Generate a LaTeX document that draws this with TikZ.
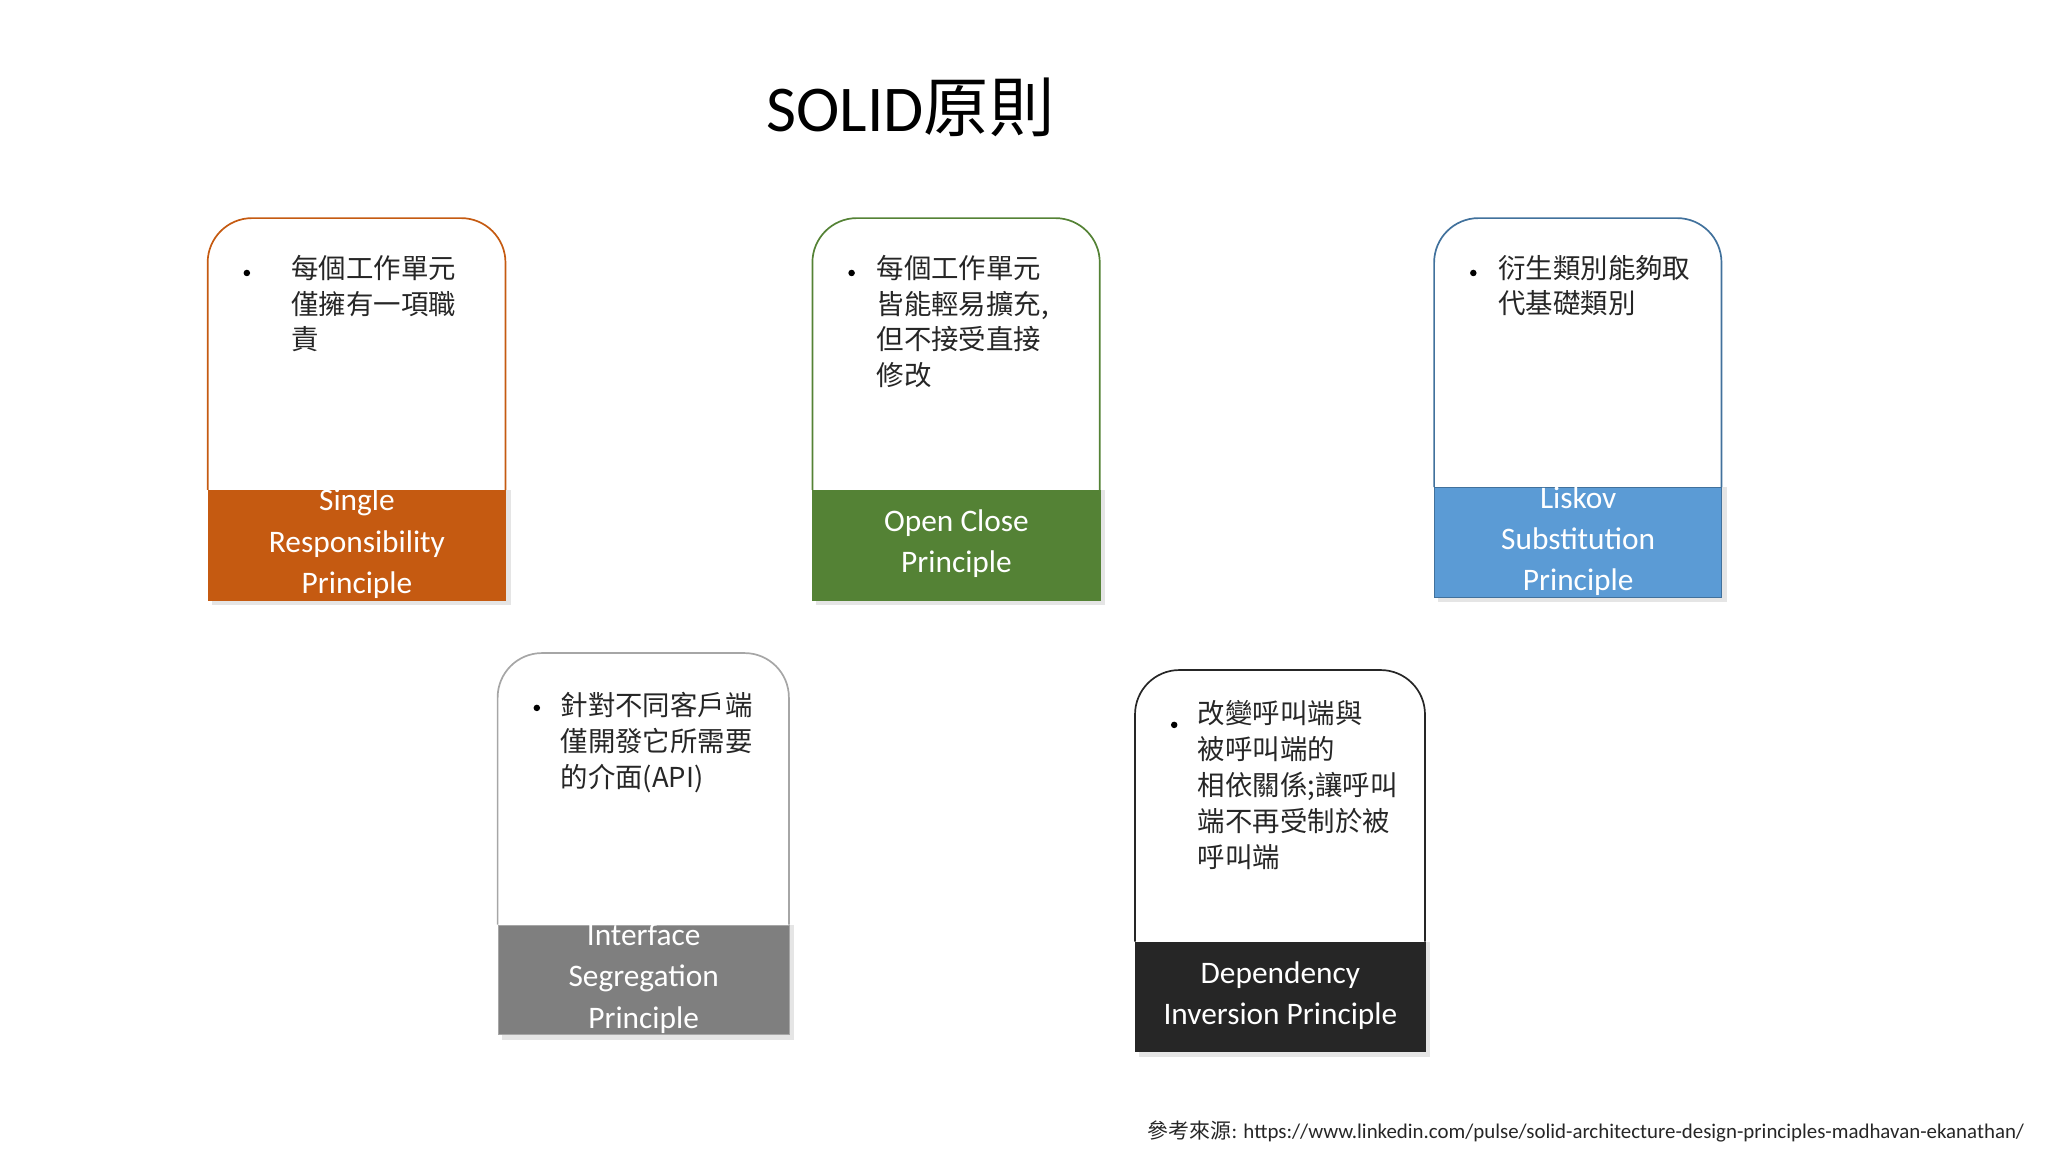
\documentclass[tikz,border=0pt]{standalone}
\usepackage{fontspec}
\setmainfont{Carlito}
\newfontfamily\cjk{Noto Sans CJK TC}
\begin{document}
\begin{tikzpicture}[x=1pt,y=-1pt,
  cjktext/.style={anchor=north west,align=left,font=\cjk\fontsize{21}{27.5}\selectfont,text=black!85,inner sep=0pt},
  bandtext/.style={align=center,text=white,font=\fontsize{24}{31.5}\selectfont,inner sep=0pt},
  bul/.style={circle,fill=black,inner sep=0pt,minimum size=5pt}]
\useasboundingbox (0,0) rectangle (1568,882);
\foreach \n/\xa/\xb/\yt/\yb/\bc/\bd in {
  a/159/387/167/375/C55A11/C55A11,
  b/622/842/167/375/548235/548235,
  c/1098/1318/167/373/5B9BD5/41719C,
  d/381/604/500/708/7F7F7F/A6A6A6,
  e/869/1091/513/721/262626/262626}{
  \definecolor{bc}{HTML}{\bc}\definecolor{bd}{HTML}{\bd}
  \fill[black!10] (\xa+3,\yb) rectangle (\xb+4,\yb+88);
  \draw[bd,line width=1.3pt,rounded corners=34pt] (\xa,\yb) -- (\xa,\yt) -- (\xb,\yt) -- (\xb,\yb);
  \node[fill=bc,draw=bd,line width=0.6pt,anchor=north west,minimum width=\xb-\xa,minimum height=84,inner sep=0pt] (band\n) at (\xa,\yb) {};
  \node[bul] (bul\n) at (\xa+30,\yt+42) {};
}
\node[cjktext] (ta) at (223,195) {每個工作單元\\僅擁有一項職\\責};
\node[cjktext] (tb) at (671,195) {每個工作單元\\皆能輕易擴充,\\但不接受直接\\修改};
\node[cjktext] (tc) at (1147,195) {衍生類別能夠取\\代基礎類別};
\node[cjktext] (td) at (429,530) {針對不同客戶端\\僅開發它所需要\\的介面(API)};
\node[cjktext] (te) at (917,536) {改變呼叫端與\\被呼叫端的\\相依關係;讓呼叫\\端不再受制於被\\呼叫端};
\node[bandtext] (la) at ([yshift=1]banda.center) {Single\\Responsibility\\Principle};
\node[bandtext] (lb) at ([yshift=1]bandb.center) {Open Close\\Principle};
\node[bandtext] (lc) at ([yshift=1]bandc.center) {Liskov\\Substitution\\Principle};
\node[bandtext] (ld) at ([yshift=1]bandd.center) {Interface\\Segregation\\Principle};
\node[bandtext] (le) at ([yshift=1]bande.center) {Dependency\\Inversion Principle};
\node[font=\fontsize{50}{55}\selectfont,inner sep=0pt] (title) at (697,82) {SOLID{\cjk 原則}};
\node[anchor=east,font=\fontsize{16}{18}\selectfont,inner sep=0pt,text=black!85] (src) at (1550,866) {{\cjk 參考來源}: https://www.linkedin.com/pulse/solid-architecture-design-principles-madhavan-ekanathan/};
\end{tikzpicture}
\end{document}
